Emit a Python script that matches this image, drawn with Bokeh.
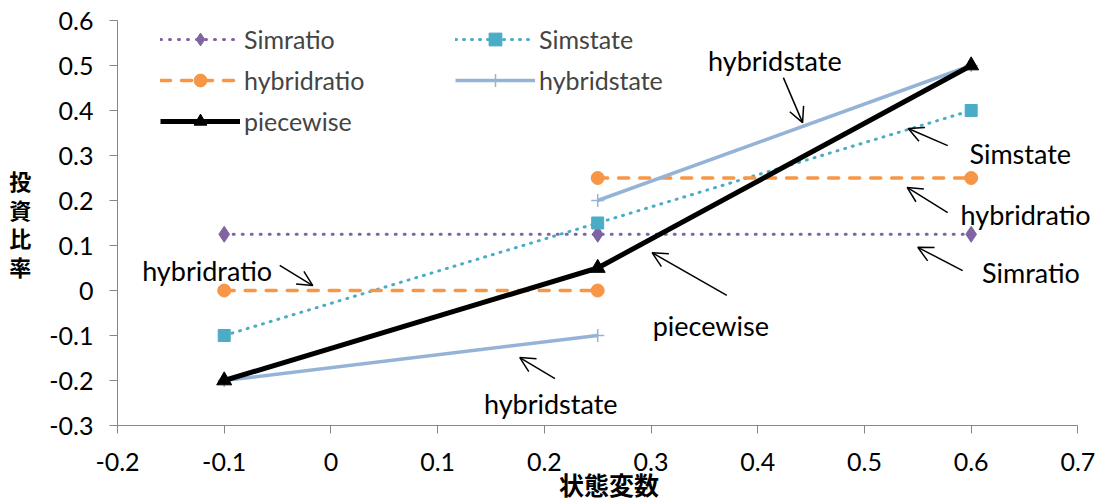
from bokeh.plotting import figure
from bokeh.models import (Legend, LegendItem, Arrow, OpenHead, Label,
                          FixedTicker, Range1d)
from bokeh.embed import file_html
from bokeh.resources import INLINE

# ---- data ----
x_pts = [-0.1, 0.25, 0.6]
simratio = [0.125, 0.125, 0.125]
simstate = [-0.1, 0.15, 0.4]
piecewise = [-0.2, 0.05, 0.5]
hybrid_low_x = [-0.1, 0.25]
hybrid_high_x = [0.25, 0.6]
hybridratio_low = [0.0, 0.0]
hybridratio_high = [0.25, 0.25]
hybridstate_low = [-0.2, -0.1]
hybridstate_high = [0.2, 0.5]

x_ticks = [-0.2, -0.1, 0.0, 0.1, 0.2, 0.3, 0.4, 0.5, 0.6, 0.7]
x_tick_labels = ["-0.2", "-0.1", "0", "0.1", "0.2", "0.3", "0.4", "0.5", "0.6", "0.7"]
y_ticks = [-0.3, -0.2, -0.1, 0.0, 0.1, 0.2, 0.3, 0.4, 0.5, 0.6]
y_tick_labels = ["-0.3", "-0.2", "-0.1", "0", "0.1", "0.2", "0.3", "0.4", "0.5", "0.6"]
x_axis_bounds = (-0.2, 0.7)
y_axis_bounds = (-0.3, 0.6)

ann_text = ["hybridstate", "Simstate", "hybridratio", "Simratio", "piecewise", "hybridstate", "hybridratio"]
ann_x = [0.416, 0.646, 0.651, 0.656, 0.356, 0.206, -0.116]
ann_y = [0.511, 0.304, 0.169, 0.040, -0.078, -0.251, 0.044]
arrow_x0 = [0.424, 0.578, 0.578, 0.592, 0.371, 0.210, -0.048]
arrow_y0 = [0.473, 0.322, 0.173, 0.044, -0.011, -0.196, 0.056]
arrow_x1 = [0.442, 0.541, 0.540, 0.550, 0.301, 0.177, -0.017]
arrow_y1 = [0.373, 0.360, 0.229, 0.096, 0.084, -0.149, 0.011]

PURPLE = "#8064A2"
TEAL = "#4BACC6"
ORANGE = "#F79646"
LBLUE = "#95B3D7"
GREY = "#868686"
FONT = "Lato"
CJK = "Noto Sans CJK JP"
XLABEL_FONT = "Lato, 'Noto Sans CJK JP'"

# the frame runs to the right edge of the page so the right-hand notes are not clipped;
# the x axis itself stops at 0.7 through its bounds
p = figure(width=1100, height=503, output_backend="svg", toolbar_location=None,
           x_range=Range1d(-0.2, 0.7212), y_range=Range1d(-0.3, 0.6),
           min_border_left=117, min_border_right=0, min_border_top=20, min_border_bottom=78)
p.outline_line_color = None
p.xgrid.visible = False
p.ygrid.visible = False
p.background_fill_color = "white"
p.border_fill_color = "white"

for ax, ticks, labels, bounds in ((p.xaxis[0], x_ticks, x_tick_labels, x_axis_bounds),
                                  (p.yaxis[0], y_ticks, y_tick_labels, y_axis_bounds)):
    ax.ticker = FixedTicker(ticks=ticks)
    ax.bounds = bounds
    ax.major_label_overrides = {t: l for t, l in zip(ticks, labels)}
    ax.minor_tick_line_color = None
    ax.major_tick_in = 0
    ax.major_tick_out = 8
    ax.axis_line_color = GREY
    ax.major_tick_line_color = GREY
    ax.major_label_text_font = FONT
    ax.major_label_text_font_size = "25px"
    ax.major_label_text_color = "black"
    ax.axis_label_text_font_style = "bold"
    ax.axis_label_text_color = "black"

p.xaxis.major_label_standoff = 19
p.xaxis.axis_label = "状態変数"
p.xaxis.axis_label_text_font = XLABEL_FONT
p.xaxis.axis_label_text_font_size = "25px"
p.xaxis.axis_label_standoff = -4
p.yaxis.major_label_standoff = 16
p.yaxis.axis_label = "投\n資\n比\n率"
p.yaxis.axis_label_text_font = CJK
p.yaxis.axis_label_orientation = "horizontal"
p.yaxis.axis_label_text_font_size = "22px"
p.yaxis.axis_label_text_line_height = 0.9
p.yaxis.axis_label_standoff = 15

# ---- series ----
l1 = p.line(x_pts, simratio, line_color=PURPLE, line_width=3, line_dash="1 8", line_cap="round")
m1 = p.scatter(x_pts, simratio, marker="diamond", size=16, fill_color=PURPLE, line_color=PURPLE)

l2 = p.line(x_pts, simstate, line_color=TEAL, line_width=3, line_dash="1 7", line_cap="round")
m2 = p.scatter(x_pts, simstate, marker="square", size=12, fill_color=TEAL, line_color=TEAL)

l3a = p.line(hybrid_low_x, hybridratio_low, line_color=ORANGE, line_width=3.5, line_dash="10 11", line_cap="round")
m3a = p.scatter(hybrid_low_x, hybridratio_low, marker="circle", size=13, fill_color=ORANGE, line_color=ORANGE)
l3b = p.line(hybrid_high_x, hybridratio_high, line_color=ORANGE, line_width=3.5, line_dash="10 11", line_cap="round")
m3b = p.scatter(hybrid_high_x, hybridratio_high, marker="circle", size=13, fill_color=ORANGE, line_color=ORANGE)

l4a = p.line(hybrid_low_x, hybridstate_low, line_color=LBLUE, line_width=3.5)
m4a = p.scatter(hybrid_low_x, hybridstate_low, marker="cross", size=13, line_color=LBLUE, line_width=1.5)
l4b = p.line(hybrid_high_x, hybridstate_high, line_color=LBLUE, line_width=3.5)
m4b = p.scatter(hybrid_high_x, hybridstate_high, marker="cross", size=13, line_color=LBLUE, line_width=1.5)

l5 = p.line(x_pts, piecewise, line_color="black", line_width=5)
m5 = p.scatter(x_pts, piecewise, marker="triangle", size=15, fill_color="black", line_color="black")

# ---- annotations ----
for t, x, y in zip(ann_text, ann_x, ann_y):
    p.add_layout(Label(x=x, y=y, text=t, text_font=FONT, text_font_size="27px",
                       text_align="center", text_baseline="middle", text_color="black"))

for xs, ys, xe, ye in zip(arrow_x0, arrow_y0, arrow_x1, arrow_y1):
    p.add_layout(Arrow(x_start=xs, y_start=ys, x_end=xe, y_end=ye, line_color="black", line_width=1.5,
                       end=OpenHead(size=15, line_color="black", line_width=1.5)))

# legend filled column by column: col 1 = Simratio, hybridratio, piecewise; col 2 = Simstate, hybridstate
legend = Legend(items=[
    LegendItem(label="Simratio", renderers=[l1, m1]),
    LegendItem(label="hybridratio", renderers=[l3a, m3a]),
    LegendItem(label="piecewise", renderers=[l5, m5]),
    LegendItem(label="Simstate", renderers=[l2, m2]),
    LegendItem(label="hybridstate", renderers=[l4a, m4a]),
], nrows=3, location=(43, 288), padding=0, margin=0, spacing=9,
    glyph_width=80, glyph_height=32, label_height=20, label_width=202, label_standoff=4,
    label_text_font=FONT, label_text_font_size="25px",
    background_fill_alpha=0, border_line_alpha=0)
p.add_layout(legend)

open("out.html", "w").write(file_html(p, INLINE))
